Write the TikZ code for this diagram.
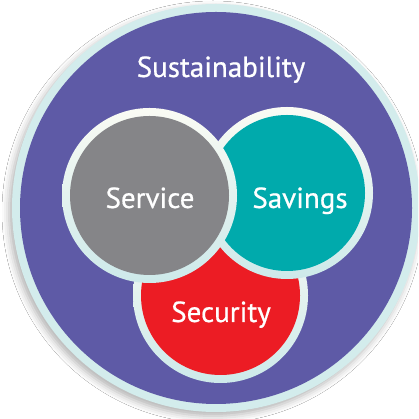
\documentclass[tikz,border=0pt]{standalone}
\usepackage{fontspec}
\setmainfont{PT Sans}
\newfontfamily\labelfont{PT Sans}[FakeBold=0.6]
\usetikzlibrary{shadows.blur}
\definecolor{sustain}{HTML}{5E5AA6}
\definecolor{servicegray}{HTML}{858588}
\definecolor{savingsteal}{HTML}{00AAAC}
\definecolor{securityred}{HTML}{EC1C24}
\definecolor{rimtop}{HTML}{FAFBF4}
\definecolor{rimbottom}{HTML}{CDE9EA}
\definecolor{outerrim}{HTML}{D3ECEC}
\begin{document}
\begin{tikzpicture}[x=1pt,y=1pt,
  rim/.style={circle, inner sep=0pt, top color=rimtop, bottom color=rimbottom},
  disc/.style={circle, inner sep=0pt},
  label/.style={text=white, font=\labelfont\fontsize{29}{29}\selectfont, anchor=base, inner sep=0pt}]
  \useasboundingbox (0,0) rectangle (418,419);
  \begin{scope}
    \clip (0,0) rectangle (418,419);
    \fill[white] (0,0) rectangle (418,419);
    % outer sustainability circle with its pale rim and soft shadow
    \node[disc, fill=outerrim, minimum size=408,
          blur shadow={shadow xshift=-3pt, shadow yshift=-4pt, shadow blur radius=7pt, shadow opacity=30}]
          (outerRim) at (216,211) {};
    \node[disc, fill=sustain, minimum size=392] (sustainability) at (outerRim) {};
  \end{scope}
  \node[label] (sustainText) at (221,342) {Sustainability};

  % security (bottom)
  \node[rim, minimum size=175] (securityRim) at (220.5,123.5) {};
  \node[disc, fill=securityred, minimum size=159] (security) at (securityRim) {};
  % savings (right)
  \node[rim, minimum size=172] (savingsRim) at (287,226) {};
  \node[disc, fill=savingsteal, minimum size=156] (savings) at (savingsRim) {};
  % service (left, on top)
  \node[rim, minimum size=175] (serviceRim) at (149.5,223.5) {};
  \node[disc, fill=servicegray, minimum size=159] (service) at (serviceRim) {};

  \node[label] (serviceText) at (150,211) {Service};
  \node[label] (savingsText) at (300,211) {Savings};
  \node[label] (securityText) at (221,97) {Security};
\end{tikzpicture}
\end{document}
